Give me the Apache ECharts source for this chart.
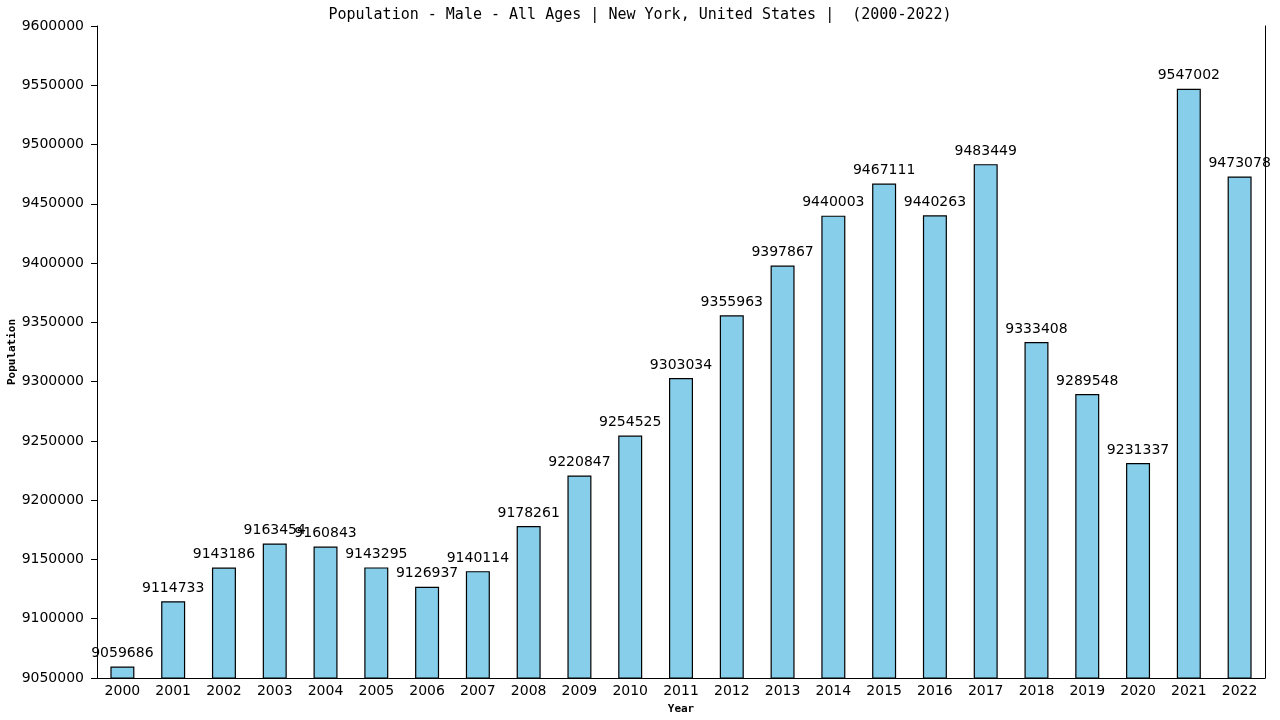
<!DOCTYPE html>
<html><head><meta charset="utf-8">
<script src="https://cdn.jsdelivr.net/npm/echarts@6/dist/echarts.min.js"></script>
<style>html,body{margin:0;padding:0;background:#fff}#c{width:1280px;height:720px}</style>
</head><body><div id="c"></div>
<script>
const years = ["2000","2001","2002","2003","2004","2005","2006","2007","2008","2009","2010","2011","2012","2013","2014","2015","2016","2017","2018","2019","2020","2021","2022"];
const population = [9059686,9114733,9143186,9163454,9160843,9143295,9126937,9140114,9178261,9220847,9254525,9303034,9355963,9397867,9440003,9467111,9440263,9483449,9333408,9289548,9231337,9547002,9473078];
const yMin = 9050000, yMax = 9600000, yStep = 50000;
const titleText = "Population - Male - All Ages | New York, United States |  (2000-2022)";

const chart = echarts.init(document.getElementById('c'));
chart.setOption({
  animation: false,
  backgroundColor: '#fff',
  title: {
    text: titleText, left: 'center', top: 3,
    textStyle: { fontFamily: 'DejaVu Sans Mono', fontSize: 15, fontWeight: 'normal', color: '#000' }
  },
  grid: { left: 97, right: 15, top: 26, bottom: 42, containLabel: false, outerBoundsMode: 'none' },
  xAxis: {
    type: 'category', data: years,
    name: 'Year', nameLocation: 'middle', nameGap: 26, nameMoveOverlap: false,
    nameTextStyle: { fontFamily: 'DejaVu Sans Mono', fontSize: 11, fontWeight: 'bold', color: '#000' },
    axisLine: { lineStyle: { color: '#000', width: 1 } },
    axisTick: { show: false },
    axisLabel: { fontFamily: 'DejaVu Sans', fontSize: 14, color: '#000', margin: 6, interval: 0 }
  },
  yAxis: [{
    type: 'value', min: yMin, max: yMax, interval: yStep,
    name: 'Population', nameLocation: 'middle', nameGap: 79, nameRotate: 90, nameMoveOverlap: false,
    nameTextStyle: { fontFamily: 'DejaVu Sans Mono', fontSize: 11, fontWeight: 'bold', color: '#000' },
    axisLine: { show: true, lineStyle: { color: '#000', width: 1 } },
    axisTick: { show: true, length: 6, lineStyle: { color: '#000' } },
    axisLabel: { fontFamily: 'DejaVu Sans', fontSize: 14, color: '#000', margin: 13, formatter: v => String(v) },
    splitLine: { show: false }
  }, {
    type: 'value', min: yMin, max: yMax, interval: yStep, position: 'right',
    axisLine: { show: true, lineStyle: { color: '#000', width: 1 } },
    axisTick: { show: false }, axisLabel: { show: false }, splitLine: { show: false }
  }],
  series: [{
    type: 'bar', data: population, barWidth: 24,
    itemStyle: { color: '#87CEEB', borderColor: '#000', borderWidth: 1.2 },
    label: { show: true, position: 'top', distance: 6, fontFamily: 'DejaVu Sans', fontSize: 14, color: '#000' }
  }]
});
</script></body></html>
